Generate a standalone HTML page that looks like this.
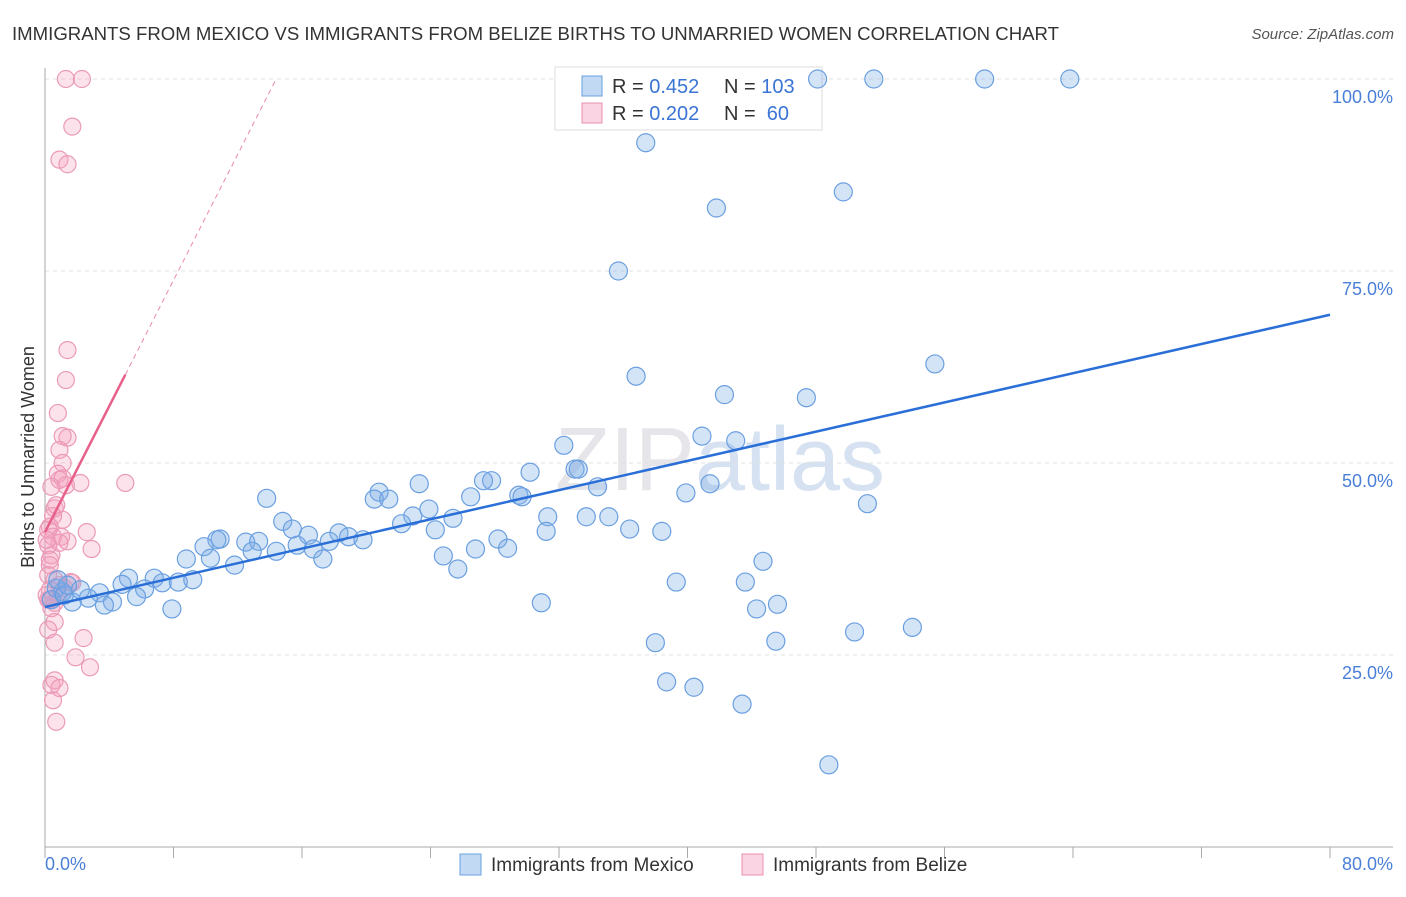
<!DOCTYPE html>
<html><head><meta charset="utf-8"><style>
body{margin:0;background:#fff;font-family:"Liberation Sans",sans-serif;}
svg text{font-family:"Liberation Sans",sans-serif;}
</style></head><body>
<svg width="1406" height="892">
<text x="12" y="40" font-size="18" fill="#333" textLength="1047" lengthAdjust="spacingAndGlyphs">IMMIGRANTS FROM MEXICO VS IMMIGRANTS FROM BELIZE BIRTHS TO UNMARRIED WOMEN CORRELATION CHART</text>
<text x="1394" y="39" font-size="15" fill="#555" font-style="italic" text-anchor="end">Source: ZipAtlas.com</text>
<text x="720" y="490" font-size="90" fill="#e6e6ea" text-anchor="middle" font-family="Liberation Serif">ZIP<tspan fill="#d6e2f2" font-family="Liberation Sans">atlas</tspan></text>
<g id="grid"></g>
<g>
<rect x="555" y="67" width="267" height="63" fill="#fff" stroke="#ddd"/>
<rect x="582" y="76" width="20" height="20" fill="rgba(120,170,230,0.45)" stroke="#6a9fe0"/>
<rect x="582" y="103" width="20" height="20" fill="rgba(245,160,190,0.45)" stroke="#e890b0"/>
<text x="612" y="93" font-size="20" fill="#333">R = <tspan fill="#3a74d4">0.452</tspan></text>
<text x="724" y="93" font-size="20" fill="#333">N = <tspan fill="#3a74d4">103</tspan></text>
<text x="612" y="120" font-size="20" fill="#333">R = <tspan fill="#3a74d4">0.202</tspan></text>
<text x="724" y="120" font-size="20" fill="#333">N = <tspan fill="#3a74d4">&#160;60</tspan></text>
</g>
<g id="marks"></g>
<text transform="translate(34,457) rotate(-90)" font-size="18" fill="#333" text-anchor="middle">Births to Unmarried Women</text>
<text x="45" y="870" font-size="18" fill="#4a7fd8">0.0%</text>
<text x="1393" y="870" font-size="18" fill="#4a7fd8" text-anchor="end">80.0%</text>
<g>
<rect x="460" y="854" width="21" height="21" fill="rgba(120,170,230,0.45)" stroke="#6a9fe0"/>
<text x="491" y="871" font-size="19" fill="#333">Immigrants from Mexico</text>
<rect x="742" y="854" width="21" height="21" fill="rgba(245,160,190,0.45)" stroke="#e890b0"/>
<text x="773" y="871" font-size="19" fill="#333">Immigrants from Belize</text>
</g>
</svg>
<script>
const yTicks=[25,50,75,100];
const yTickLabels=["25.0%","50.0%","75.0%","100.0%"];
const xTicks=[0,8,16,24,32,40,48,56,64,72,80];
const mexicoX=[48.1,51.6,58.5,63.8,37.4,49.7,41.8,35.7,55.4,36.8,42.3,47.4,40.9,43.0,32.3,33.0,33.2,27.8,27.3,30.2,23.3,20.8,34.4,41.4,39.9,29.5,29.7,26.5,20.5,21.4,13.8,51.2,23.9,22.9,25.4,22.2,31.3,33.7,35.1,14.8,15.4,36.4,31.2,38.4,24.3,18.3,18.9,16.4,19.8,17.7,10.9,12.5,13.3,10.7,9.9,15.7,14.4,16.7,12.9,28.2,28.8,26.8,8.8,10.3,17.3,24.8,11.8,25.7,44.7,5.2,6.8,4.8,7.3,8.3,9.2,6.2,39.3,43.6,5.7,3.4,2.7,4.2,3.7,7.9,1.1,1.7,0.7,0.4,30.9,45.6,44.3,38.0,45.5,50.4,54.0,38.7,40.4,43.4,48.8,0.8,1.2,2.2,1.4];
const mexicoY=[100,100,100,100,91.7,85.3,83.2,75.0,62.9,61.3,58.9,58.5,53.5,52.9,52.3,49.2,49.2,47.7,47.7,48.8,47.3,46.2,46.9,47.3,46.1,45.8,45.6,45.6,45.3,45.3,45.4,44.7,44.0,43.1,42.8,42.1,43.0,43.0,43.0,42.4,41.4,41.4,41.1,41.1,41.3,40.9,40.4,40.6,40.0,39.8,40.1,39.7,39.8,40.0,39.1,39.3,38.5,38.8,38.5,40.1,38.9,38.8,37.5,37.6,37.5,37.9,36.7,36.2,37.2,35.0,35.0,34.2,34.4,34.5,34.8,33.6,34.5,34.5,32.6,33.1,32.4,31.9,31.5,31.0,33.2,31.9,33.7,32.2,31.8,31.6,31.0,26.6,26.8,28.0,28.6,21.5,20.8,18.6,10.7,34.8,32.8,33.5,34.1];
const belizeX=[1.3,2.3,1.7,0.9,1.4,1.4,1.3,0.8,1.1,1.4,0.9,1.1,0.8,0.9,1.1,2.2,5.0,0.4,0.6,0.5,0.3,0.2,0.5,1.0,1.4,2.6,2.9,0.9,0.2,0.4,0.3,0.2,0.6,0.9,1.2,1.6,1.7,0.2,0.6,0.4,0.6,0.2,2.4,0.6,1.9,2.8,0.6,0.4,0.9,0.5,0.7,0.3,0.3,0.1,0.8,1.1,0.1,0.7,1.3,0.3];
const belizeY=[100,100,93.8,89.5,88.9,64.7,60.8,56.5,53.5,53.3,51.7,50.0,48.6,47.8,48.0,47.4,47.4,46.9,44.1,43.1,41.7,41.3,40.4,40.4,39.8,41.0,38.8,39.6,39.3,38.0,36.7,35.4,34.8,34.1,33.7,34.5,34.4,32.2,31.8,31.1,29.3,28.3,27.2,26.6,24.7,23.4,21.7,21.1,20.7,19.1,16.3,37.4,33.5,32.8,32.7,42.6,40.0,44.5,47.1,32.2];
const mexicoTrend=[31.25,69.3];
const belizeTrend=[41.0,4.1];

const X0=45,X1=1330,Y0=847,Y100=79;
const sx=v=>X0+(X1-X0)*v/80;
const sy=v=>Y0-(Y0-Y100)*v/100;
const NS="http://www.w3.org/2000/svg";
function mk(tag,attrs,parent){const e=document.createElementNS(NS,tag);for(const k in attrs)e.setAttribute(k,attrs[k]);parent.appendChild(e);return e;}
const grid=document.getElementById('grid'),marks=document.getElementById('marks');
yTicks.forEach((t,i)=>{
 const l=mk('line',{x1:X0,x2:1393,y1:sy(t),y2:sy(t),stroke:'#e0e0e0','stroke-dasharray':'4,4'},grid);
 
 
 const tx=mk('text',{x:1393,y:sy(t)+24,'font-size':18,fill:'#4a7fd8','text-anchor':'end'},grid);
 tx.textContent=yTickLabels[i];
 
 
});
const ax=mk('line',{x1:X0,x2:1393,y1:Y0,y2:Y0,stroke:'#aaa'},grid);


const ay=mk('line',{x1:X0,x2:X0,y1:68,y2:Y0,stroke:'#aaa'},grid);


xTicks.forEach(t=>{
 const l=mk('line',{x1:sx(t),x2:sx(t),y1:Y0,y2:Y0+11,stroke:'#aaa'},grid);
 
 
});
belizeX.forEach((x,i)=>{
 const c=mk('circle',{cx:sx(x),cy:sy(belizeY[i]),r:8.5,fill:'rgba(245,160,190,0.3)',stroke:'#eb9ab8','stroke-width':1.2},marks);
 
 
});
mexicoX.forEach((x,i)=>{
 const c=mk('circle',{cx:sx(x),cy:sy(mexicoY[i]),r:9,fill:'rgba(120,170,230,0.32)',stroke:'#6a9fe0','stroke-width':1.2},marks);
 
 
});
const mt=mk('line',{x1:sx(0),y1:sy(mexicoTrend[0]),x2:sx(80),y2:sy(mexicoTrend[1]),stroke:'#2a6fd8','stroke-width':2.5},marks);


const xEnd=(100-belizeTrend[0])/belizeTrend[1];
const bt=mk('line',{x1:sx(0),y1:sy(belizeTrend[0]),x2:sx(5),y2:sy(belizeTrend[0]+5*belizeTrend[1]),stroke:'#e8608a','stroke-width':2.5},marks);


const bd=mk('line',{x1:sx(5),y1:sy(belizeTrend[0]+5*belizeTrend[1]),x2:sx(xEnd),y2:sy(100),stroke:'#eb8aa8','stroke-width':1,'stroke-dasharray':'5,4'},marks);


</script>
</body></html>
